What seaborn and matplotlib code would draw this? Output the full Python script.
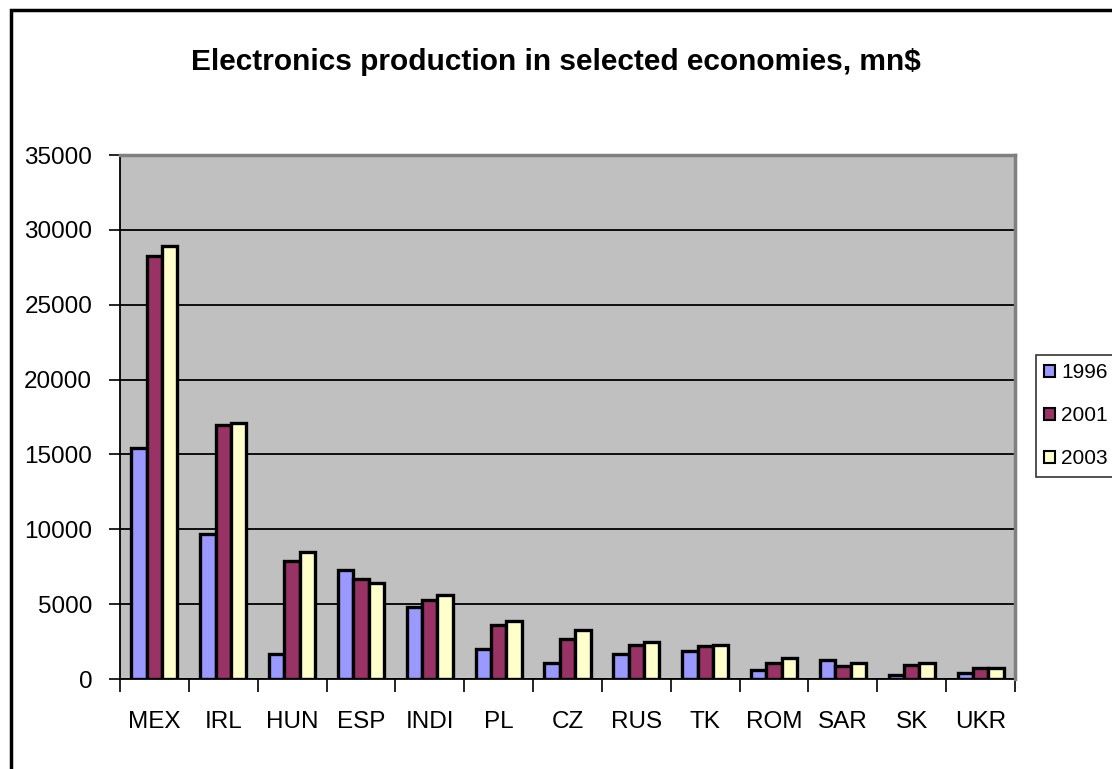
import matplotlib
matplotlib.use("Agg")
import matplotlib.pyplot as plt
import matplotlib.patches as mpatches
from matplotlib.ticker import FixedLocator
import seaborn as sns
import pandas as pd

countries = ["MEX", "IRL", "HUN", "ESP", "INDI", "PL", "CZ", "RUS", "TK", "ROM", "SAR", "SK", "UKR"]
years = ["1996", "2001", "2003"]
prod_1996 = [15400, 9700, 1700, 7300, 4800, 2000, 1100, 1700, 1850, 600, 1250, 300, 400]
prod_2001 = [28250, 16950, 7850, 6700, 5300, 3600, 2650, 2300, 2200, 1100, 900, 950, 750]
prod_2003 = [28900, 17100, 8450, 6400, 5600, 3900, 3250, 2450, 2300, 1400, 1050, 1100, 750]
colors = ["#9999FF", "#993366", "#FFFFCC"]
y_ticks = [0, 5000, 10000, 15000, 20000, 25000, 30000, 35000]

rows = []
for yr, vals in zip(years, [prod_1996, prod_2001, prod_2003]):
    for c, v in zip(countries, vals):
        rows.append({"country": c, "year": yr, "value": v})
df = pd.DataFrame(rows)

sns.set_theme(style="white")
plt.rcParams["font.family"] = ["Liberation Sans", "DejaVu Sans"]
plt.rcParams["text.color"] = "black"
plt.rcParams["xtick.color"] = "black"
plt.rcParams["ytick.color"] = "black"
plt.rcParams["xtick.labelcolor"] = "black"
plt.rcParams["ytick.labelcolor"] = "black"

fig = plt.figure(figsize=(11.12, 7.69), dpi=100)
W, H = 1112, 769
ax = fig.add_axes([120 / W, 1 - 679 / H, (1015 - 120) / W, (679 - 155) / H])
ax.set_facecolor("#C0C0C0")

sns.barplot(data=df, x="country", y="value", hue="year", order=countries,
            hue_order=years, palette=colors, width=0.67, saturation=1,
            edgecolor="black", linewidth=2.4, gap=0, ax=ax, legend=False,
            zorder=3)

ax.set_ylim(0, 35000)
ax.set_xlim(-0.5, len(countries) - 0.5)
ax.set_yticks(y_ticks)
ax.set_yticklabels([str(t) for t in y_ticks], fontsize=17.5)
ax.yaxis.grid(True, color="black", linewidth=1.3, zorder=1)
ax.set_axisbelow(True)

# category labels without ticks, boundary ticks as minor ticks
ax.tick_params(axis="x", which="major", length=0, labelsize=17.5, pad=23)
ax.xaxis.set_minor_locator(FixedLocator([i - 0.5 for i in range(len(countries) + 1)]))
ax.tick_params(axis="x", which="minor", length=9, width=1.2, color="black", direction="out", bottom=True)
ax.tick_params(axis="y", which="major", length=8, width=1.2, color="black", direction="out", left=True, pad=12)
ax.set_xlabel("")
ax.set_ylabel("")

for side in ["left", "bottom"]:
    ax.spines[side].set_color("black")
    ax.spines[side].set_linewidth(1.3)
for side in ["top", "right"]:
    ax.spines[side].set_color("#808080")
    ax.spines[side].set_linewidth(2.5)
    ax.spines[side].set_zorder(4)

fig.text(0.5, 1 - 62 / H, "Electronics production in selected economies, mn$",
         ha="center", va="center", fontsize=21.5, fontweight="bold", color="black",
         family=["Liberation Sans", "DejaVu Sans"])

# outer chart frame
fig.patches.append(mpatches.Rectangle((11 / W, -0.05), 1.2, 1 - 10 / H + 0.05,
                                      transform=fig.transFigure, fill=False,
                                      edgecolor="black", linewidth=2.5))

handles = [mpatches.Patch(facecolor=c, edgecolor="black", linewidth=1.5, label=y)
           for c, y in zip(colors, years)]
leg = fig.legend(handles=handles, loc="upper left",
                 bbox_to_anchor=(1036 / W, 1 - 355 / H), fontsize=15,
                 frameon=True, fancybox=False, handlelength=0.5, handleheight=0.5,
                 handletextpad=0.3, labelspacing=1.15, borderpad=0.4,
                 borderaxespad=0)
leg.get_frame().set_edgecolor("black")
leg.get_frame().set_linewidth(1.2)

fig.savefig("out.png", dpi=100)
